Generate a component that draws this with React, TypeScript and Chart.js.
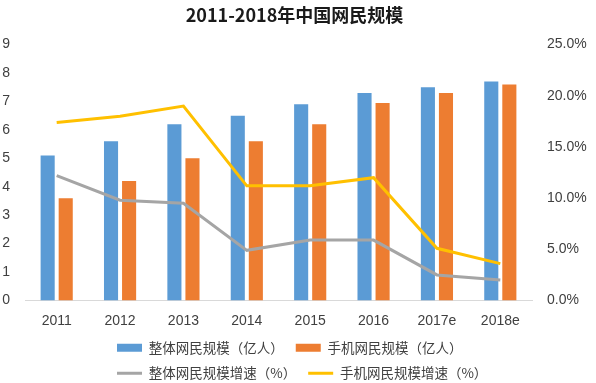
import React, { useEffect, useRef } from "react";
import { Chart, registerables } from "chart.js";

Chart.register(...registerables);

const categories = ["2011", "2012", "2013", "2014", "2015", "2016", "2017e", "2018e"];
const totalUsers = [5.1, 5.6, 6.2, 6.5, 6.9, 7.3, 7.5, 7.7];
const mobileUsers = [3.6, 4.2, 5.0, 5.6, 6.2, 6.95, 7.3, 7.6];
const totalGrowth = [12.2, 9.8, 9.5, 4.9, 5.9, 5.9, 2.5, 2.0];
const mobileGrowth = [17.4, 18.0, 19.0, 11.2, 11.2, 12.0, 5.1, 3.6];

const leftTicks = { min: 0, max: 9, step: 1 };
const rightTicks = { min: 0, max: 25, step: 5 };

const titleText = "2011-2018年中国网民规模";
const seriesNames = [
  "整体网民规模（亿人）",
  "手机网民规模（亿人）",
  "整体网民规模增速（%）",
  "手机网民规模增速（%）",
];

const COLORS = {
  blue: "#5B9BD5",
  orange: "#ED7D31",
  gray: "#A5A5A5",
  yellow: "#FFC000",
};

const TICK_FONT = { family: "'Liberation Sans', 'Noto Sans CJK SC', sans-serif", size: 14 };
const CJK_FONT = "'Noto Sans CJK SC', 'Liberation Sans', sans-serif";

// Shifts the (chart-area-wide) legend box so its rows start where the original's do.
const LEGEND_SHIFT = 80;
const legendShiftPlugin = {
  id: "legendShift",
  afterLayout(chart: any) {
    const l = chart.legend;
    if (l) {
      l.left += LEGEND_SHIFT;
      l.right += LEGEND_SHIFT;
    }
  },
};

export default function App() {
  const canvasRef = useRef<HTMLCanvasElement | null>(null);

  useEffect(() => {
    if (!canvasRef.current) return;
    const chart = new Chart(canvasRef.current, {
      type: "bar",
      data: {
        labels: categories,
        datasets: [
          {
            type: "bar",
            label: seriesNames[0],
            data: totalUsers,
            backgroundColor: COLORS.blue,
            yAxisID: "y",
            order: 2,
            categoryPercentage: 0.57,
            barPercentage: 0.78,
          },
          {
            type: "bar",
            label: seriesNames[1],
            data: mobileUsers,
            backgroundColor: COLORS.orange,
            yAxisID: "y",
            order: 2,
            categoryPercentage: 0.57,
            barPercentage: 0.78,
          },
          {
            type: "line",
            label: seriesNames[2],
            data: totalGrowth,
            borderColor: COLORS.gray,
            backgroundColor: COLORS.gray,
            borderWidth: 3,
            pointRadius: 0,
            pointHoverRadius: 0,
            tension: 0,
            yAxisID: "y1",
            order: 1,
          },
          {
            type: "line",
            label: seriesNames[3],
            data: mobileGrowth,
            borderColor: COLORS.yellow,
            backgroundColor: COLORS.yellow,
            borderWidth: 3,
            pointRadius: 0,
            pointHoverRadius: 0,
            tension: 0,
            yAxisID: "y1",
            order: 1,
          },
        ],
      },
      options: {
        responsive: false,
        animation: false,
        layout: { padding: { left: 2, right: 9, top: 0, bottom: 0 } },
        scales: {
          x: {
            grid: { display: false, drawTicks: false },
            border: { display: true, color: "#D9D9D9", width: 1 },
            ticks: { color: "#404040", font: TICK_FONT, padding: 12 },
            afterFit: (s: any) => {
              s.height = 28.5;
            },
          },
          y: {
            position: "left",
            min: leftTicks.min,
            max: leftTicks.max,
            grid: { display: false, drawTicks: false },
            border: { display: false },
            ticks: { stepSize: leftTicks.step, color: "#404040", font: TICK_FONT, padding: 15 },
            afterFit: (s: any) => {
              s.width = 23;
            },
          },
          y1: {
            position: "right",
            min: rightTicks.min,
            max: rightTicks.max,
            grid: { display: false, drawTicks: false },
            border: { display: false },
            ticks: {
              stepSize: rightTicks.step,
              color: "#404040",
              font: TICK_FONT,
              padding: 15,
              callback: (v: any) => Number(v).toFixed(1) + "%",
            },
            afterFit: (s: any) => {
              s.width = 55;
            },
          },
        },
        plugins: {
          title: {
            display: true,
            text: titleText,
            color: "#1a1a1a",
            font: { family: CJK_FONT, size: 18, weight: "bold" },
            padding: { top: 4, bottom: 19 },
          },
          legend: {
            display: true,
            position: "bottom",
            align: "start",
            fullSize: false,
            maxHeight: 54,
            labels: {
              color: "#404040",
              font: { family: CJK_FONT, size: 13.5 },
              usePointStyle: true,
              pointStyleWidth: 25,
              boxHeight: 8,
              padding: 12,
              sort: (a: any, b: any) => a.datasetIndex - b.datasetIndex,
              generateLabels: (ch: any) => {
                const items = Chart.defaults.plugins.legend.labels.generateLabels(ch);
                return items.map((it: any) => {
                  const isLine = it.datasetIndex >= 2;
                  return {
                    ...it,
                    pointStyle: isLine ? "line" : "rect",
                    lineWidth: isLine ? 3 : 0,
                  };
                });
              },
            },
          },
          tooltip: { enabled: false },
        },
      },
      plugins: [legendShiftPlugin],
    });
    return () => chart.destroy();
  }, []);

  return (
    <div style={{ position: "absolute", left: 0, top: 0, width: 596, height: 383, background: "#fff" }}>
      <canvas ref={canvasRef} width={596} height={383} style={{ display: "block" }} />
    </div>
  );
}
